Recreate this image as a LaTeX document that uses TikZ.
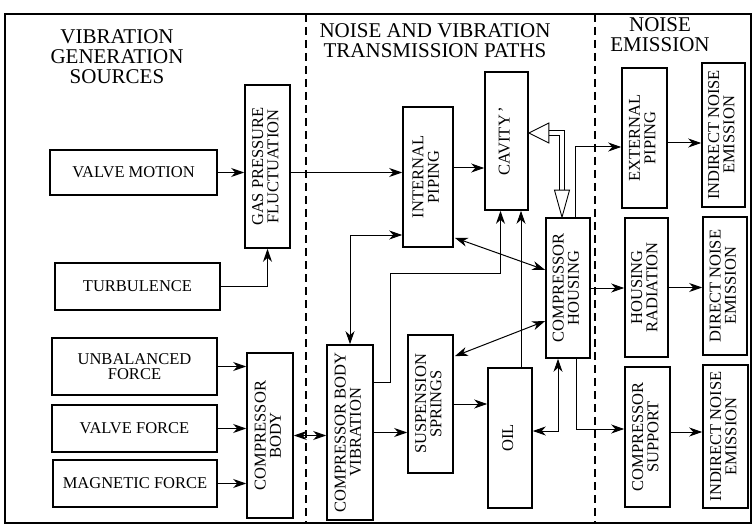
\documentclass[tikz,border=0pt]{standalone}
\usepackage{fontspec}
\setmainfont{Liberation Serif}
\usetikzlibrary{calc,arrows.meta}

\tikzset{
  blk/.style={draw, line width=1.6pt, inner sep=0pt, font=\fontsize{16.5}{15}\selectfont},
  hdr/.style={align=center, font=\fontsize{21}{20}\selectfont},
  arr/.style={line width=1pt, -{Stealth[length=13pt,width=9pt,inset=4pt]}},
  darr/.style={line width=1pt, {Stealth[length=13pt,width=9pt,inset=4pt]}-{Stealth[length=13pt,width=9pt,inset=4pt]}},
  hollow/.style={double, double distance=4pt, line width=0.9pt},
  tipline/.style={line width=0.9pt, fill=white, line join=miter},
  sep/.style={line width=1.4pt, dash pattern=on 8pt off 5pt},
}
\newcommand{\vtext}[1]{\rotatebox{90}{\begin{tabular}{@{}c@{}}#1\end{tabular}}}

\begin{document}
\begin{tikzpicture}[x=1pt, y=-1pt]
        \useasboundingbox (0,0) rectangle (753,532);

        % frame and column separators
        \draw[line width=1.4pt] (5,14) rectangle (751,523);
        \draw[sep] (306,14) -- (306,523);
        \draw[sep] (595,14) -- (595,523);

        % column titles
        \node[hdr] (t1) at (117,57) {VIBRATION\\GENERATION\\SOURCES};
        \node[hdr] (t2) at (435,41) {NOISE AND VIBRATION\\TRANSMISSION PATHS};
        \node[hdr] (t3) at (660,35) {NOISE\\EMISSION};

        % sources
        \node[blk, minimum width=167, minimum height=45] (valve) at (133.5,172.5) {VALVE MOTION};
        \node[blk, minimum width=45, minimum height=163] (gas) at (267.5,166.5) {\vtext{GAS PRESSURE\\FLUCTUATION}};
        \node[blk, minimum width=165, minimum height=47] (turb) at (137.5,286.5) {TURBULENCE};
        \node[blk, minimum width=165, minimum height=57, align=center] (unbal) at (134.5,366.5) {UNBALANCED\\FORCE};
        \node[blk, minimum width=165, minimum height=47] (vforce) at (134.5,428.5) {VALVE FORCE};
        \node[blk, minimum width=164, minimum height=47] (magn) at (135,483.5) {MAGNETIC FORCE};
        \node[blk, minimum width=46, minimum height=165] (cbody) at (270,435.5) {\vtext{COMPRESSOR\\BODY}};

        % transmission paths
        \node[blk, minimum width=46, minimum height=175] (cbv) at (350,432.5) {\vtext{COMPRESSOR BODY\\VIBRATION}};
        \node[blk, minimum width=50, minimum height=140] (piping) at (428,177) {\vtext{INTERNAL\\PIPING}};
        \node[blk, minimum width=43, minimum height=138] (cavity) at (506.5,141) {\vtext{CAVITY\,'}};
        \node[blk, minimum width=45, minimum height=138] (springs) at (430.5,404) {\vtext{SUSPENSION\\SPRINGS}};
        \node[blk, minimum width=44, minimum height=140] (oil) at (510,438) {\vtext{OIL}};
        \node[blk, minimum width=44, minimum height=140] (housing) at (568,288) {\vtext{COMPRESSOR\\HOUSING}};

        % emission
        \node[blk, minimum width=45, minimum height=140] (extpip) at (644.5,138) {\vtext{EXTERNAL\\PIPING}};
        \node[blk, minimum width=43, minimum height=144] (ind1) at (723.5,135) {\vtext{INDIRECT NOISE\\EMISSION}};
        \node[blk, minimum width=43, minimum height=139] (hrad) at (646.5,287.5) {\vtext{HOUSING\\RADIATION}};
        \node[blk, minimum width=44, minimum height=138] (direct) at (725,286) {\vtext{DIRECT NOISE\\EMISSION}};
        \node[blk, minimum width=45, minimum height=140] (support) at (647.5,437) {\vtext{COMPRESSOR\\SUPPORT}};
        \node[blk, minimum width=45, minimum height=143] (ind2) at (725.5,436.5) {\vtext{INDIRECT NOISE\\EMISSION}};

        % bend points
        \coordinate (k1) at (390,273);
        \coordinate (ox) at (521,0);
        \coordinate (hc) at (562,133);

        % left column
        \draw[arr] (valve) -- (valve -| gas.west);
        \draw[arr] (turb) -| (gas);
        \foreach \s in {unbal,vforce,magn}
            \draw[arr] (\s) -- (\s -| cbody.west);
        \draw[darr] (cbody) -- (cbody -| cbv.west);

        % middle column
        \draw[arr] (gas.east |- valve) -- (piping.west |- valve);
        \draw[arr] ($(piping.east)+(0,-9)$) -- ($(piping.east -| cavity.west)+(0,-9)$);
        \draw[darr] ($(piping.west)+(0,58)$) -| (cbv.north);
        \draw[arr] ($(cbv.east)+(0,-50)$) -| (k1) -| ($(cavity.south)+(-6,0)$);
        \draw[arr] (oil.north -| ox) -- (cavity.south -| ox);
        \draw[darr] ($(piping.south east)+(1,-10)$) -- ($(housing.west)+(0,-18)$);
        \draw[darr] ($(springs.north east)+(1,22)$) -- ($(housing.west)+(0,33)$);
        \draw[arr] (cbv) -- (cbv -| springs.west);
        \draw[arr] (springs) -- (springs -| oil.west);
        \draw[darr] ($(oil.east)+(0,-7)$) -| ($(housing.south)+(-10,0)$);

        % hollow arrow cavity <-> housing
        \draw[hollow, shorten <=19pt, shorten >=26pt] (cavity.east |- hc) -- (hc) -- (hc |- housing.north);
        \draw[tipline] (cavity.east |- hc) -- ++(20,-10) -- ++(0,20) -- cycle;
        \draw[tipline] (hc |- housing.north) -- ++(-7.5,-27) -- ++(15,0) -- cycle;

        % right column
        \draw[arr] ($(housing.north)+(7,0)$) |- ($(extpip.west)+(0,9)$);
        \draw[arr] (housing) -- (housing -| hrad.west);
        \draw[arr] ($(housing.south)+(8,0)$) |- ($(support.west)+(0,-8)$);
        \draw[arr] ($(extpip.east)+(0,5)$) -- ($(extpip.east -| ind1.west)+(0,5)$);
        \draw[arr] (hrad) -- (hrad -| direct.west);
        \draw[arr] ($(support.east)+(0,-5)$) -- ($(support.east -| ind2.west)+(0,-5)$);
\end{tikzpicture}
\end{document}
